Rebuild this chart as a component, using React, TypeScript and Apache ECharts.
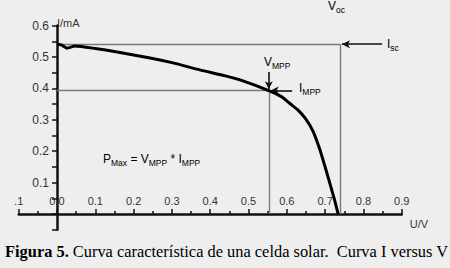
import React, { useEffect, useRef } from "react";
import * as echarts from "echarts";

// Curve I(U)
const voltage = [0, 0.012, 0.026, 0.047, 0.1, 0.157, 0.243, 0.3, 0.373, 0.44, 0.478, 0.553, 0.587, 0.608, 0.63, 0.648, 0.668, 0.685, 0.7, 0.713, 0.724, 0.734];
const current = [0.541, 0.538, 0.528, 0.535, 0.527, 0.516, 0.497, 0.482, 0.459, 0.44, 0.427, 0.393, 0.373, 0.352, 0.33, 0.305, 0.265, 0.21, 0.15, 0.095, 0.048, 0];

// Characteristic points
const vOc = 0.739;
const iSc = 0.541;
const vMpp = 0.553;
const iMpp = 0.393;

const xTicks = { min: -0.1, max: 0.9, step: 0.1 };
const yTicks = { min: -0.05, max: 0.6, step: 0.05 };

const AXIS_FONT = "Liberation Sans, Arial, sans-serif";
const SERIF = "Liberation Serif, Times New Roman, serif";

function sub(main: string, s: string) {
  return `{m|${main}}{s|${s}}`;
}
const subRich = {
  m: { fontSize: 12, fontFamily: AXIS_FONT, color: "#222", lineHeight: 15, verticalAlign: "top" as const },
  s: { fontSize: 8.5, fontFamily: AXIS_FONT, color: "#222", lineHeight: 10, verticalAlign: "top" as const, padding: [5, 0, 0, 0] },
};

// grid geometry (pixels)
const GRID = { left: 18.7, right: 48.3, top: 25.6, bottom: 38.3 };

export default function App() {
  const ref = useRef<HTMLDivElement>(null);
  useEffect(() => {
    if (!ref.current) return;
    const chart = echarts.init(ref.current, undefined, { renderer: "svg" });
    const gray = { color: "#7a7a7a", width: 1.4, type: "solid" as const };
    const black = { color: "#111", width: 1.6, type: "solid" as const };
    const plotW = 450 - GRID.left - GRID.right;
    const plotH = 268 - GRID.top - GRID.bottom;
    // move axes to the zero lines
    const yOffset = -((0 - xTicks.min) / (xTicks.max - xTicks.min)) * plotW;
    const xOffset = -((0 - yTicks.min) / (yTicks.max - yTicks.min)) * plotH;
    chart.setOption({
      animation: false,
      backgroundColor: "#eeeeee",
      grid: { ...GRID, containLabel: false, outerBoundsMode: "none" },
      xAxis: {
        type: "value",
        min: xTicks.min,
        max: xTicks.max,
        interval: xTicks.step,
        offset: xOffset,
        name: "U/V",
        nameLocation: "end",
        nameGap: 8,
        nameTextStyle: { align: "left", verticalAlign: "top", padding: [4, 0, 0, 0], fontSize: 11, fontFamily: AXIS_FONT, color: "#333" },
        axisLine: { onZero: false, lineStyle: { color: "#111", width: 2.5 } },
        axisTick: { show: true, inside: true, length: 5, lineStyle: { color: "#111", width: 1.5 } },
        minorTick: { show: true, splitNumber: 2, length: 3, lineStyle: { color: "#111", width: 1.5 } },
        axisLabel: {
          inside: true,
          margin: 8,
          fontSize: 11,
          fontFamily: AXIS_FONT,
          color: "#333",
          formatter: (v: number) => (Math.abs(v + 0.1) < 1e-6 ? ".1" : v.toFixed(1)),
        },
        splitLine: { show: false },
      },
      yAxis: {
        type: "value",
        min: yTicks.min,
        max: yTicks.max,
        interval: yTicks.step,
        offset: yOffset,
        name: "I/mA",
        nameLocation: "end",
        nameGap: -3,
        nameTextStyle: { align: "left", verticalAlign: "bottom", fontSize: 11, fontFamily: AXIS_FONT, color: "#333" },
        axisLine: { onZero: false, lineStyle: { color: "#111", width: 2.5 } },
        axisTick: { show: true, length: 5, lineStyle: { color: "#111", width: 1.5 } },
        axisLabel: {
          margin: 8,
          fontSize: 12,
          fontFamily: AXIS_FONT,
          color: "#333",
          formatter: (v: number) => {
            const k = Math.round(v * 100);
            return k > 0 && k % 10 === 0 ? (k / 100).toFixed(1) : "";
          },
        },
        splitLine: { show: false },
      },
      series: [
        {
          type: "line",
          data: voltage.map((v, i) => [v, current[i]]),
          showSymbol: false,
          smooth: 0.2,
          clip: false,
          lineStyle: { color: "#000", width: 3 },
          z: 5,
        },
        {
          type: "line",
          data: [],
          clip: false,
          markLine: {
            silent: true,
            symbol: ["none", "none"],
            label: { show: false },
            lineStyle: gray,
            data: [
              [{ coord: [0, iSc] }, { coord: [vOc, iSc] }],
              [{ coord: [vOc, iSc] }, { coord: [vOc, 0] }],
              [{ coord: [0, iMpp] }, { coord: [vMpp, iMpp] }],
              [{ coord: [vMpp, iMpp] }, { coord: [vMpp, 0] }],
            ],
          },
        },
        {
          type: "line",
          data: [],
          clip: false,
          markLine: {
            silent: true,
            symbol: ["none", "arrow"],
            symbolSize: [6, 8],
            label: { show: false },
            lineStyle: black,
            data: [
              [{ coord: [vOc, 0.64] }, { coord: [vOc, iSc + 0.004] }],
              [{ coord: [0.849, iSc] }, { coord: [vOc + 0.005, iSc] }],
              [{ coord: [vMpp, 0.452] }, { coord: [vMpp, iMpp + 0.004] }],
              [{ coord: [0.614, iMpp] }, { coord: [vMpp + 0.005, iMpp] }],
            ],
          },
        },
      ],
      graphic: [
        { type: "text", left: 328, top: 0, style: { text: sub("V", "oc"), rich: subRich } },
        { type: "text", left: 387, top: 38, style: { text: sub("I", "sc"), rich: subRich } },
        { type: "text", left: 264, top: 56, style: { text: sub("V", "MPP"), rich: subRich } },
        { type: "text", left: 299, top: 82, style: { text: sub("I", "MPP"), rich: subRich } },
        {
          type: "text",
          left: 103,
          top: 153,
          style: { text: sub("P", "Max") + "{m| = }" + sub("V", "MPP") + "{m| * }" + sub("I", "MPP"), rich: subRich },
        },
        {
          type: "text",
          left: 5,
          top: 243,
          style: {
            text: "{b|Figura 5.}{n| Curva característica de una celda solar.  Curva I versus V}",
            rich: {
              b: { fontFamily: SERIF, fontSize: 16.4, fontWeight: "bold", color: "#000" },
              n: { fontFamily: SERIF, fontSize: 16.4, color: "#000" },
            },
          },
        },
      ],
    });
    return () => chart.dispose();
  }, []);
  return <div ref={ref} style={{ position: "absolute", left: 0, top: 0, width: 450, height: 268 }} />;
}
